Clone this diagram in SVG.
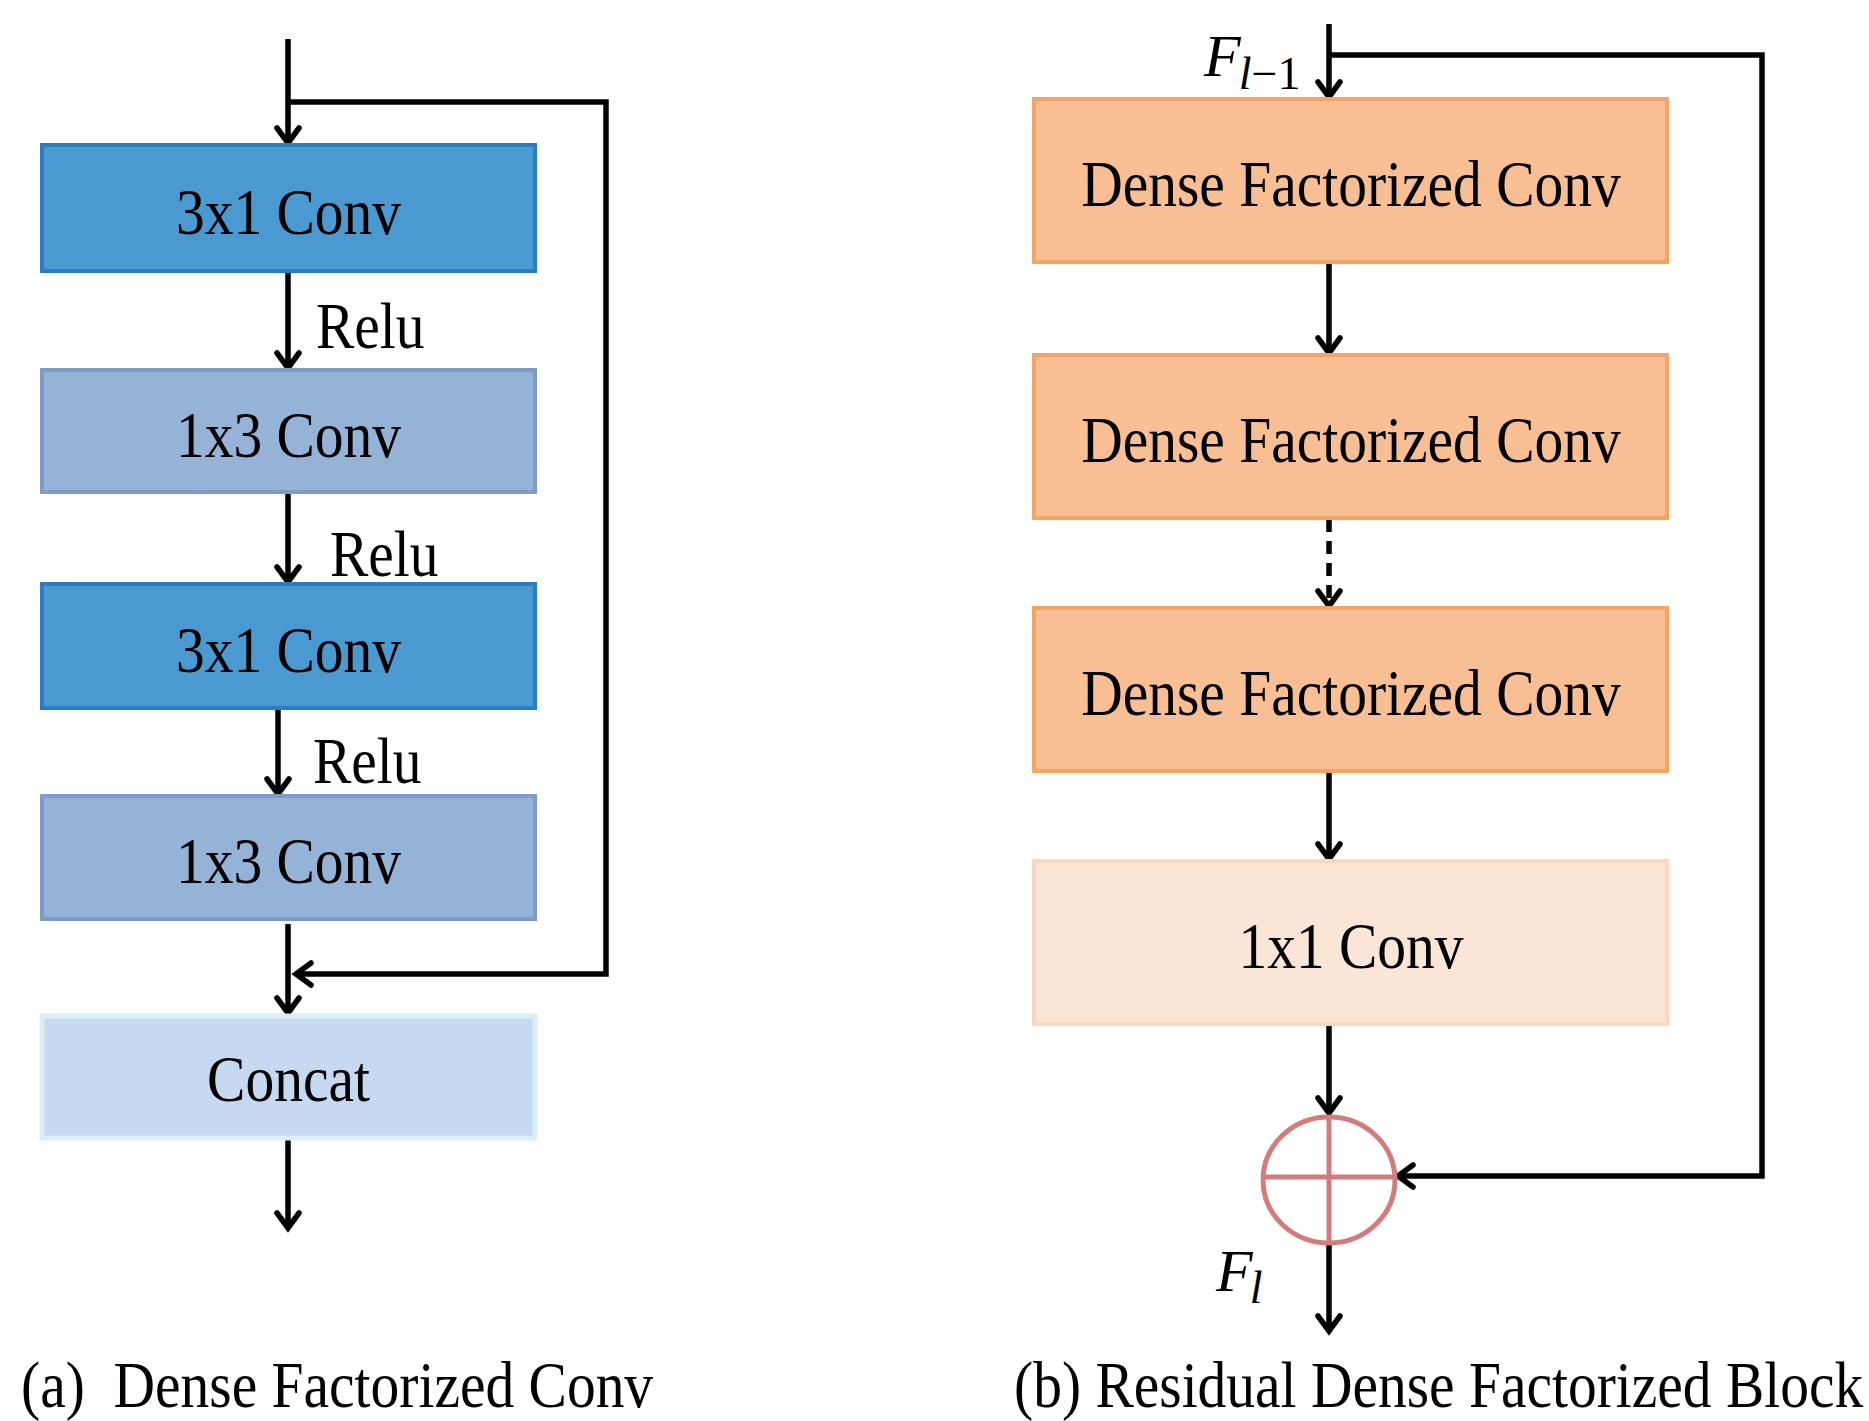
<svg xmlns="http://www.w3.org/2000/svg" width="1869" height="1421" viewBox="0 0 1869 1421">
<defs>
<marker id="arr" markerUnits="userSpaceOnUse" markerWidth="40" markerHeight="40" viewBox="-20 -20 40 40" refX="0" refY="0" orient="auto">
<path d="M-15,-11 L0,0 L-15,11" fill="none" stroke="#000" stroke-width="5.5" stroke-linecap="round" stroke-linejoin="miter"/>
</marker>
<style>
.ln{fill:none;stroke:#000;stroke-width:5.5}
.dash{fill:none;stroke:#000;stroke-width:5.5;stroke-dasharray:13 9}
.t{font-family:"Liberation Serif","Times New Roman",serif;font-size:57.5px;fill:#000}
.it{font-family:"Liberation Serif","Times New Roman",serif;font-style:italic;fill:#000}
.b1{fill:#4b99d1;stroke:#2b7cc1;stroke-width:4}
.b2{fill:#95b3d7;stroke:#7f9cc8;stroke-width:4}
.b3{fill:#c6d9f0;stroke:#dbeef4;stroke-width:5}
.o1{fill:#f8bf94;stroke:#f4a564;stroke-width:4}
.o2{fill:#fbe5d6;stroke:#f9d8bd;stroke-width:4}
.sum{fill:none;stroke:#d37c7c;stroke-width:5}
</style>
</defs>
<rect width="1869" height="1421" fill="#fff"/>

<g id="connectors">
<line class="ln" x1="288" y1="39" x2="288" y2="143" marker-end="url(#arr)"/>
<polyline class="ln" points="288,102 606,102 606,974 296,974" marker-end="url(#arr)"/>
<line class="ln" x1="288" y1="271" x2="288" y2="368" marker-end="url(#arr)"/>
<line class="ln" x1="288" y1="492" x2="288" y2="582" marker-end="url(#arr)"/>
<line class="ln" x1="278" y1="708" x2="278" y2="794" marker-end="url(#arr)"/>
<line class="ln" x1="288" y1="924" x2="288" y2="1013" marker-end="url(#arr)"/>
<line class="ln" x1="288" y1="1140" x2="288" y2="1228" marker-end="url(#arr)"/>
<line class="ln" x1="1329" y1="24" x2="1329" y2="97" marker-end="url(#arr)"/>
<polyline class="ln" points="1329,55 1762,55 1762,1176 1398,1176" marker-end="url(#arr)"/>
<line class="ln" x1="1329" y1="262" x2="1329" y2="353" marker-end="url(#arr)"/>
<line class="dash" x1="1329" y1="519" x2="1329" y2="606" marker-end="url(#arr)"/>
<line class="ln" x1="1329" y1="770" x2="1329" y2="859" marker-end="url(#arr)"/>
<line class="ln" x1="1329" y1="1023" x2="1329" y2="1113" marker-end="url(#arr)"/>
<line class="ln" x1="1329" y1="1245" x2="1329" y2="1331" marker-end="url(#arr)"/>
</g>

<g id="n_conv3x1_a"><rect class="b1" x="42" y="145" width="493" height="126"/><text class="t" text-anchor="middle" transform="translate(288.5,234) scale(1,1.14)">3x1 Conv</text></g>
<g id="n_conv1x3_a"><rect class="b2" x="42" y="370" width="493" height="122"/><text class="t" text-anchor="middle" transform="translate(288.5,457) scale(1,1.14)">1x3 Conv</text></g>
<g id="n_conv3x1_b"><rect class="b1" x="42" y="584" width="493" height="124"/><text class="t" text-anchor="middle" transform="translate(288.5,672) scale(1,1.14)">3x1 Conv</text></g>
<g id="n_conv1x3_b"><rect class="b2" x="42" y="796" width="493" height="123"/><text class="t" text-anchor="middle" transform="translate(288.5,883) scale(1,1.14)">1x3 Conv</text></g>
<g id="n_concat"><rect class="b3" x="42" y="1016" width="493" height="122"/><text class="t" text-anchor="middle" transform="translate(288.5,1101) scale(1,1.14)">Concat</text></g>

<g id="relu_labels">
<text class="t" transform="translate(316,348) scale(1,1.14)">Relu</text>
<text class="t" transform="translate(330,576) scale(1,1.14)">Relu</text>
<text class="t" transform="translate(313,783) scale(1,1.14)">Relu</text>
</g>

<g id="n_dfc1"><rect class="o1" x="1034" y="99" width="633" height="163"/><text class="t" text-anchor="middle" transform="translate(1351,206) scale(1,1.14)">Dense Factorized Conv</text></g>
<g id="n_dfc2"><rect class="o1" x="1034" y="355" width="633" height="163"/><text class="t" text-anchor="middle" transform="translate(1351,462) scale(1,1.14)">Dense Factorized Conv</text></g>
<g id="n_dfc3"><rect class="o1" x="1034" y="608" width="633" height="163"/><text class="t" text-anchor="middle" transform="translate(1351,715) scale(1,1.14)">Dense Factorized Conv</text></g>
<g id="n_conv1x1"><rect class="o2" x="1034" y="861" width="633" height="163"/><text class="t" text-anchor="middle" transform="translate(1351,968) scale(1,1.14)">1x1 Conv</text></g>

<g id="n_sum">
<ellipse class="sum" cx="1329" cy="1180" rx="66" ry="63"/>
<line class="sum" stroke-width="4" x1="1263" y1="1177" x2="1395" y2="1177"/>
<line class="sum" stroke-width="4" x1="1329" y1="1117" x2="1329" y2="1243"/>
</g>

<g id="labels">
<text class="it" font-size="60" x="1204" y="76">F<tspan font-size="46" dy="13" dx="-2">l</tspan><tspan font-size="46" font-style="normal">−1</tspan></text>
<text class="it" font-size="60" x="1216" y="1291">F<tspan font-size="46" dy="12" dx="-3">l</tspan></text>
<text class="t" transform="translate(21,1407) scale(1,1.14)" xml:space="preserve">(a)  Dense Factorized Conv</text>
<text class="t" transform="translate(1014,1407) scale(1,1.14)">(b) Residual Dense Factorized Block</text>
</g>
</svg>
